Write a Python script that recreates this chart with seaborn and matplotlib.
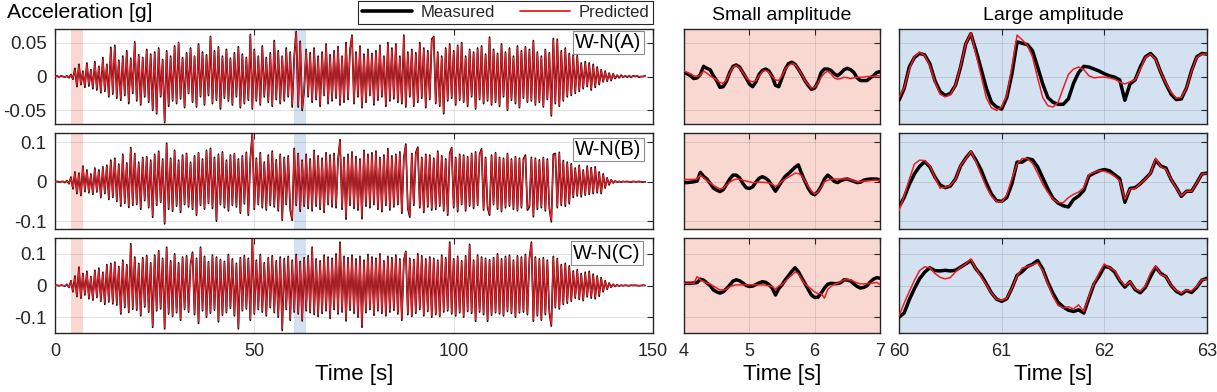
import numpy as np
import pandas as pd
import matplotlib
matplotlib.use("Agg")
import matplotlib.pyplot as plt
from matplotlib.lines import Line2D
import seaborn as sns

sns.set_theme(style="white")
plt.rcParams["font.family"] = ["Liberation Sans", "DejaVu Sans"]

# ---------------------------------------------------------------- data
station_labels = ["W-N(A)", "W-N(B)", "W-N(C)"]
full_t_step = 0.5      # s, sampling of the overview records
zoom_t_step = 0.05     # s, sampling of the zoomed windows
small_window = [4, 7]
large_window = [60, 63]
col_titles = ["Small amplitude", "Large amplitude"]
full_xticks = [0, 50, 100, 150]
small_xticks = [4, 5, 6, 7]
large_xticks = [60, 61, 62, 63]
row_yticks = [[-0.05, 0, 0.05], [-0.1, 0, 0.1], [-0.1, 0, 0.1]]
row_yticklabels = [["-0.05", "0", "0.05"], ["-0.1", "0", "0.1"], ["-0.1", "0", "0.1"]]
row_ylims = [(-0.07, 0.07), (-0.12, 0.124), (-0.15, 0.15)]

# overview records, acceleration in milli-g, 0 ... 148 s
meas_A_mg = [
    0, 1, -1, 1, 0, -1, 1, -2, 3, -4,
    12, -15, 18, -12, 8, -16, 20, -14, 10, -18,
    22, -20, 15, -24, 28, -22, 18, -30, 43, -26,
    46, -32, 24, -35, 30, -28, 38, -40, 27, -25,
    51, -36, 32, -42, 28, -30, 40, -38, 33, -50,
    36, -55, 42, -30, 25, -68, 38, -44, 30, -36,
    45, -40, 50, -33, 28, -46, 35, -25, 42, -38,
    30, -45, 48, -30, 36, -42, 32, -28, 59, -40,
    38, -35, 44, -48, 30, -32, 40, -36, 27, -42,
    35, -30, 44, -46, 33, -40, 28, -35, 62, -48,
    40, -36, 30, -42, 45, -30, 28, -38, 35, -44,
    53, -34, 38, -40, 30, -36, 42, -30, 36, -45,
    30, 66, -45, 52, -50, -20, 40, -30, 35, -38,
    42, -34, 30, -44, 36, -28, 48, -40, 32, -36,
    38, -32, 44, -42, 30, -38, 50, -34, 40, 61,
    -40, 36, -30, 45, -46, 33, -38, 40, -28, 34,
    -42, 38, -35, 46, -30, 30, -44, 50, -36, 42,
    -33, 48, -38, 30, -40, 61, -45, 36, -30, 40,
    -44, 35, -38, 50, -32, 42, -46, 38, -34, 55,
    59, -40, 36, -44, 30, -55, 42, -36, 48, -32,
    38, -42, 46, -35, 50, -38, 30, -44, 40, -30,
    36, -48, 42, -34, 45, -40, 33, -36, 58, -42,
    40, -38, 34, -44, 48, -30, 36, -50, 42, -35,
    30, -40, 45, -46, 38, -32, 44, -38, 40, -36,
    53, -42, 36, -38, 30, -45, 40, -34, 35, -58,
    56, -40, 55, -44, 38, -36, 42, -30, 34, -28,
    32, -25, 31, -22, 20, -18, 22, -15, 20, -20,
    18, -16, 14, -12, 10, -8, 8, -7, 5, -6,
    4, -3, 2, -2, 2, -1, 1, -1, 1, -1,
    1, 0, 1, -1, 0, 0, 1,
]
pred_A_mg = [
    0, 1, -1, 1, 0, -1, 1, -1, 2, -3,
    10, -13, 16, -11, 7, -14, 18, -12, 9, -16,
    20, -18, 14, -22, 26, -20, 17, -28, 41, -24,
    44, -30, 22, -33, 28, -26, 36, -37, 25, -23,
    50, -34, 30, -40, 27, -28, 38, -36, 31, -48,
    34, -53, 40, -28, 24, -66, 36, -41, 28, -34,
    43, -38, 49, -31, 26, -44, 33, -24, 40, -36,
    29, -43, 46, -28, 34, -40, 30, -26, 58, -38,
    36, -33, 42, -45, 28, -30, 38, -34, 26, -40,
    33, -28, 42, -44, 31, -38, 27, -33, 61, -46,
    38, -34, 29, -40, 43, -28, 26, -36, 33, -42,
    51, -32, 36, -38, 29, -34, 40, -28, 34, -42,
    28, 65, -43, 50, -47, -18, 38, -28, 33, -36,
    40, -32, 28, -42, 34, -27, 46, -38, 30, -34,
    36, -30, 42, -40, 29, -36, 48, -32, 38, 60,
    -38, 34, -28, 43, -44, 31, -36, 38, -27, 32,
    -40, 36, -33, 44, -28, 29, -42, 48, -34, 40,
    -31, 46, -36, 28, -38, 60, -43, 34, -28, 38,
    -42, 33, -36, 48, -30, 40, -44, 36, -32, 53,
    58, -38, 34, -42, 28, -53, 40, -34, 46, -30,
    36, -40, 44, -33, 48, -36, 28, -42, 38, -28,
    34, -46, 40, -32, 43, -38, 31, -34, 56, -40,
    38, -36, 32, -42, 46, -28, 34, -48, 40, -33,
    28, -38, 43, -44, 36, -30, 42, -36, 38, -34,
    51, -40, 34, -36, 28, -43, 38, -32, 33, -56,
    54, -38, 53, -42, 36, -34, 40, -28, 32, -26,
    30, -23, 29, -20, 18, -16, 20, -13, 18, -18,
    16, -14, 12, -10, 9, -7, 7, -6, 4, -5,
    3, -2, 2, -1, 1, -1, 1, 0, 1, 0,
    0, 0, 1, 0, 0, 0, 0,
]
meas_B_mg = [
    0, 1, -1, 0, 1, -2, 3, -5, 12, -18,
    25, -30, 22, -35, 40, -25, 30, -28, 20, -32,
    35, -26, 30, -40, 38, -30, 42, -45, 55, -40,
    60, -50, 45, -62, 70, -55, 48, -65, 87, -60,
    72, -58, 50, -70, 62, -48, 64, -66, 55, -90,
    70, -60, 78, -52, 58, -107, 98, -70, 60, -75,
    80, -62, 55, -78, 68, -58, 72, -64, 50, -70,
    66, -85, 74, -60, 58, -70, 80, -55, 85, -68,
    62, -100, 70, -58, 76, -66, 55, -74, 68, -60,
    72, -64, 58, -80, 66, -56, 75, -85, 60, 124,
    -70, 60, -58, 74, -66, 50, -72, 68, -60, 78,
    -64, 56, -74, 70, -98, 62, -58, 66, -72, -98,
    85, -60, 72, -75, 55, -62, 70, -68, 58, -74,
    80, -62, 66, -70, 60, -78, 74, -58, 68, -64,
    72, -66, 58, 107, -70, 62, -95, 70, -60, 76,
    -68, 64, -72, 58, -94, 80, -62, 70, -66, 74,
    -58, 78, -70, 62, -76, 68, -60, 84, -72, 66,
    -64, 70, -58, 76, -80, 62, 96, -68, -90, 72,
    -60, 74, 88, -66, 62, -78, 70, -64, 68, -72,
    60, -70, 78, -62, 66, -74, 58, -85, 72, 87,
    -66, 62, -76, 70, -58, 68, -74, 64, -62, 72,
    -68, 76, -60, 70, 84, -72, 62, -66, -85, 68,
    -58, 74, -70, 62, -76, 60, -66, 72, -62, 58,
    -70, 64, -74, 60, -66, 58, 68, -72, -64, 62,
    -89, 60, -70, 56, -66, 62, -74, 58, -68, -102,
    70, 72, -66, 75, -60, 54, -62, 50, -56, 46,
    -40, 35, -36, 42, -38, 30, -34, 40, -32, 36,
    -30, 38, -28, 25, -30, 20, -16, 10, -8, 5,
    -3, 2, -1, 1, -1, 1, 0, 1, 0, -1,
    1, 0, 0, 1, 0, -1, 0,
]
pred_B_mg = [
    0, 0, -1, 0, 1, -1, 2, -4, 10, -16,
    23, -27, 20, -32, 38, -22, 27, -26, 18, -29,
    33, -24, 27, -37, 36, -27, 40, -42, 52, -37,
    57, -47, 42, -58, 67, -52, 45, -61, 84, -57,
    69, -55, 47, -66, 59, -45, 61, -63, 52, -86,
    67, -57, 75, -49, 55, -103, 95, -66, 57, -71,
    77, -59, 52, -74, 65, -55, 69, -60, 47, -66,
    63, -81, 71, -57, 55, -66, 77, -52, 82, -64,
    59, -96, 67, -55, 73, -62, 52, -70, 65, -57,
    69, -60, 55, -76, 63, -53, 72, -81, 57, 121,
    -66, 57, -55, 71, -62, 47, -68, 65, -57, 75,
    -60, 53, -70, 67, -94, 59, -55, 63, -68, -94,
    82, -57, 69, -71, 52, -58, 67, -64, 55, -70,
    77, -58, 63, -66, 57, -74, 71, -55, 65, -60,
    69, -62, 55, 104, -66, 59, -91, 67, -57, 73,
    -64, 61, -68, 55, -90, 77, -58, 67, -62, 71,
    -55, 75, -66, 59, -72, 65, -57, 81, -68, 63,
    -60, 67, -55, 73, -76, 59, 93, -64, -86, 69,
    -57, 71, 85, -62, 59, -74, 67, -60, 65, -68,
    57, -66, 75, -58, 63, -70, 55, -81, 69, 84,
    -62, 59, -72, 67, -55, 65, -70, 61, -58, 69,
    -64, 73, -57, 67, 81, -68, 59, -62, -81, 65,
    -55, 71, -66, 59, -72, 57, -62, 69, -58, 55,
    -66, 61, -70, 57, -62, 55, 65, -68, -60, 59,
    -85, 57, -66, 53, -62, 59, -70, 55, -64, -98,
    67, 69, -62, 72, -56, 51, -58, 47, -52, 43,
    -36, 32, -33, 39, -34, 27, -31, 36, -29, 33,
    -27, 35, -25, 22, -27, 17, -14, 8, -6, 4,
    -2, 1, -1, 1, 0, 1, 0, 0, 0, 0,
    1, 0, 0, 0, 0, 0, 0,
]
meas_C_mg = [
    0, 1, -1, 1, 0, -2, 4, -6, 15, -20,
    30, -35, 58, -40, 38, -30, 45, -42, 28, -46,
    48, -38, 55, -50, 42, -60, 66, -52, 70, -58,
    74, -62, 60, -90, 80, -70, 66, -85, 132, -75,
    90, -78, 70, -96, 88, -68, 95, -84, 72, -132,
    96, -80, 110, -74, 86, -137, 121, -90, 78, -98,
    100, -86, 72, -110, 90, -76, 94, -84, 68, 105,
    -92, 86, -120, 121, -80, 92, -100, 75, -88, 96,
    -78, 90, -115, 82, -94, 76, -86, 98, -72, 84,
    -96, 70, -137, 88, -80, 95, -74, 86, -110, 150,
    -90, 80, -76, 98, -84, 72, -96, 88, -70, 94,
    -86, 78, -100, 90, -142, 85, -76, 92, -110, 80,
    -84, 98, -90, 76, -112, 88, -80, 94, -86, 121,
    -92, 84, -98, 78, -88, 96, -80, 90, -104, 86,
    -76, 100, -90, 137, -84, 92, -112, 88, -78, 96,
    -88, 84, -100, 92, -132, 80, -86, 98, -76, 90,
    -94, 86, -80, 100, -88, 78, -96, 92, -84, 88,
    -78, 96, -90, 84, -110, 80, 108, -92, 86, -98,
    82, -88, 100, -76, 94, -96, 84, -82, 90, -100,
    86, -92, 80, -98, 96, -84, 88, -80, 137, -90,
    84, -96, 92, -86, 78, -100, 94, -82, 130, -88,
    80, -113, 96, -84, 90, -92, 86, -113, 82, -94,
    88, -86, 100, -90, 84, -96, 92, -82, 96, -88,
    80, -100, 94, -86, 90, -84, 98, -92, 86, 137,
    -113, 90, -96, 84, -110, 88, -92, 80, -86, -128,
    92, -70, 85, -74, 66, -60, 70, -56, 62, -50,
    46, -40, 50, -44, 38, -48, 42, -36, 45, -40,
    36, -42, 30, -34, 25, -20, 15, -12, 8, -6,
    4, -3, 2, -2, 1, -1, 1, 0, -1, 1,
    0, 1, 0, -1, 0, 1, 0,
]
pred_C_mg = [
    0, 0, -1, 1, 0, -1, 3, -5, 13, -18,
    27, -32, 55, -37, 35, -27, 42, -39, 26, -43,
    45, -35, 52, -47, 39, -56, 63, -49, 67, -55,
    71, -58, 57, -86, 77, -66, 63, -81, 128, -71,
    86, -74, 67, -92, 84, -64, 91, -80, 69, -128,
    92, -76, 106, -70, 82, -132, 118, -86, 74, -94,
    96, -82, 68, -106, 86, -72, 90, -80, 64, 101,
    -88, 82, -115, 118, -76, 88, -96, 71, -84, 92,
    -74, 86, -110, 78, -90, 72, -82, 94, -68, 80,
    -92, 66, -132, 84, -76, 91, -70, 82, -106, 146,
    -86, 76, -72, 94, -80, 68, -92, 84, -66, 90,
    -82, 74, -96, 86, -136, 81, -72, 88, -106, 76,
    -80, 94, -86, 72, -108, 84, -76, 90, -82, 118,
    -88, 80, -94, 74, -84, 92, -76, 86, -100, 82,
    -72, 96, -86, 133, -80, 88, -108, 84, -74, 92,
    -84, 80, -96, 88, -127, 76, -82, 94, -72, 86,
    -90, 82, -76, 96, -84, 74, -92, 88, -80, 84,
    -74, 92, -86, 80, -106, 76, 104, -88, 82, -94,
    78, -84, 96, -72, 90, -92, 80, -78, 86, -96,
    82, -88, 76, -94, 92, -80, 84, -76, 133, -86,
    80, -92, 88, -82, 74, -96, 90, -78, 126, -84,
    76, -108, 92, -80, 86, -88, 82, -108, 78, -90,
    84, -82, 96, -86, 80, -92, 88, -78, 92, -84,
    76, -96, 90, -82, 86, -80, 94, -88, 82, 133,
    -108, 86, -92, 80, -106, 84, -88, 76, -82, -123,
    88, -66, 81, -70, 62, -56, 66, -52, 58, -46,
    42, -36, 46, -40, 34, -44, 38, -32, 41, -36,
    32, -38, 27, -30, 22, -17, 13, -10, 6, -5,
    3, -2, 1, -1, 1, 0, 0, 0, 0, 1,
    0, 0, 0, 0, 0, 0, 0,
]

# zoomed windows (milli-g), 4-7 s and 60-63 s
small_meas_A_mg = [6, 4, 1, -3, -2, 3, 15, 12, 10, 1, -6, -16, -15, -7, 6, 15, 17, 14, 6, -2,
                   -11, -15, -8, 3, 9, 11, 8, 0, -13, -15, -2, 11, 19, 21, 18, 11, 3, -6, -13, -19,
                   -17, -8, 6, 11, 11, 9, 4, 1, 5, 10, 12, 10, 6, -2, -6, -6, -6, -2, 1, 6, 7]
small_pred_A_mg = [8, 6, 4, 1, 0, 2, 8, 5, 1, -2, -5, -9, -10, -5, 5, 14, 16, 13, 6, -1,
                   -6, -8, -6, 1, 7, 9, 6, 0, -5, -6, 1, 11, 16, 19, 18, 11, 3, -6, -12, -17,
                   -16, -10, -1, 5, 8, 4, -2, -4, -3, -1, -2, -3, -2, -1, -1, -1, 0, 0, 0, 1, 1]
large_meas_A_mg = [-35, -18, 14, 28, 34, 32, 19, -6, -22, -28, -25, -13, 14, 48, 63, 38, 11, -17, -38, -45,
                   -48, -31, 4, 51, 49, 47, 38, 14, -11, -31, -38, -41, -41, -33, -10, 6, 15, 14, 11, 8,
                   4, 1, -1, -5, -35, -11, -5, 14, 29, 34, 26, 6, -11, -26, -34, -33, -17, 9, 29, 34, 33]
large_pred_A_mg = [-31, -17, 11, 29, 36, 31, 16, -8, -26, -30, -27, -13, 16, 48, 64, 33, 1, -31, -46, -50,
                   -45, -28, 14, 61, 54, 46, 29, -2, -31, -43, -45, -38, -17, 3, 11, 14, 10, 1, -2, -1,
                   -1, -2, -4, -8, -11, -8, -5, 11, 28, 33, 25, 6, -10, -23, -32, -31, -17, 8, 28, 33, 33]
small_meas_B_mg = [-2, -2, -1, 0, 2, 24, 14, 7, -4, -16, -21, -25, -20, -7, 7, 17, 17, 10, -4, -15,
                   -17, -13, -1, 9, 13, 9, 2, -11, -24, -11, 2, 14, 21, 29, 37, 43, 21, 2, -16, -29,
                   -33, -25, -11, 7, 17, 10, 1, -2, 3, 6, 7, 4, 1, -2, -1, 4, 6, 7, 7, 7, 4]
small_pred_B_mg = [6, 6, 6, 6, 7, 17, 10, 3, -2, -9, -14, -18, -16, -9, -1, 4, 7, 7, 4, 2,
                   0, -2, -2, -1, -1, -2, -3, -6, -12, -7, 2, 7, 12, 17, 22, 21, 16, 3, -11, -23,
                   -31, -26, -13, 0, 4, 6, 7, 7, 7, 7, 7, 6, 2, 0, 0, 2, 2, 3, 4, 4, 4]
large_meas_B_mg = [-64, -40, -7, 20, 39, 51, 38, 12, -8, -15, -11, 7, 40, 60, 76, 55, 30, -3, -31, -48,
                   -50, -40, -5, 50, 50, 59, 56, 38, 10, -18, -42, -54, -61, -64, -45, -36, -22, 15, 22, 28,
                   31, 28, 18, 8, -52, -17, -15, -5, 8, 22, 55, 40, 35, 6, -14, -37, -24, -24, -3, 20, 22]
large_pred_B_mg = [-73, -36, 6, 45, 55, 54, 41, 11, -16, -14, -9, 6, 42, 58, 78, 50, 18, -13, -36, -50,
                   -52, -33, 8, 45, 59, 59, 47, 22, -6, -27, -44, -53, -53, -40, -32, -26, -15, 18, 24, 28,
                   27, 22, 14, 2, -44, -19, -17, -5, 7, 22, 60, 38, 32, 6, -16, -36, -24, -24, -3, 20, 21]
small_meas_C_mg = [7, 7, 7, 8, 9, 20, 17, 8, 0, -14, -20, -24, -20, -10, 1, 14, 18, 15, 8, 0,
                   -3, -2, 3, 8, 12, 10, 3, -8, -30, -10, 2, 18, 31, 45, 56, 44, 25, 7, -12, -30,
                   -38, -37, -24, -8, 4, 7, 6, 6, 9, 18, 17, 14, 5, -3, -8, -6, -1, 11, 20, 25, 23]
small_pred_C_mg = [7, 7, 7, 7, 28, 18, 13, 7, 5, -2, -8, -14, -14, -12, -4, 0, 2, 2, 2, 2,
                   2, 2, 2, 2, 2, 1, -1, -3, -12, -2, 3, 12, 24, 33, 43, 37, 20, 5, -3, -12,
                   -20, -26, -25, -40, -12, -3, 4, 7, 12, 18, 18, 18, 13, 8, 5, 5, 6, 7, 8, 10, 3]
large_meas_C_mg = [-100, -87, -45, -10, 21, 42, 56, 47, 46, 48, 46, 48, 58, 68, 79, 52, 33, 6, -23, -43,
                   -50, -42, -8, 32, 44, 60, 67, 79, 52, 10, -25, -53, -68, -78, -82, -77, -87, -40, 5, 30,
                   60, 57, 43, 15, -5, 12, -13, -23, -6, 28, 58, 38, 28, 0, -18, -27, -16, -22, -6, 17, 23]
large_pred_C_mg = [-96, -56, -19, 16, 47, 59, 56, 38, 26, 21, 25, 43, 57, 68, 84, 52, 27, 3, -24, -43,
                   -47, -40, -8, 30, 55, 60, 65, 72, 48, 5, -35, -63, -71, -67, -74, -61, -82, -35, 8, 40,
                   68, 56, 48, 18, 0, 12, -11, -18, -1, 40, 62, 34, 28, 1, -16, -24, -14, -17, -3, 18, 20]

full_meas = [meas_A_mg, meas_B_mg, meas_C_mg]
full_pred = [pred_A_mg, pred_B_mg, pred_C_mg]
small_meas = [small_meas_A_mg, small_meas_B_mg, small_meas_C_mg]
small_pred = [small_pred_A_mg, small_pred_B_mg, small_pred_C_mg]
large_meas = [large_meas_A_mg, large_meas_B_mg, large_meas_C_mg]
large_pred = [large_pred_A_mg, large_pred_B_mg, large_pred_C_mg]

# ---------------------------------------------------------------- style
MEAS_C = "#000000"
PRED_C = "#ee1c24"
PINK = "#f9d8d1"
BLUE = "#d4e1f1"
AX_C = "#262626"

FIG_W, FIG_H = 1217, 392
fig = plt.figure(figsize=(FIG_W / 100, FIG_H / 100), dpi=100)


def rect(l, t, r, b):
    return [l / FIG_W, 1 - b / FIG_H, (r - l) / FIG_W, (b - t) / FIG_H]


col_px = [(55, 653), (684, 880), (899, 1207)]
row_px = [(29, 124), (133, 229), (238, 333)]
label_pos = [(0.9256, 0.858), (0.9256, 0.828), (0.9231, 0.842)]


def series_frame(t0, step, meas, pred):
    n_m, n_p = len(meas), len(pred)
    return pd.DataFrame({
        "t": np.concatenate([t0 + step * np.arange(n_m), t0 + step * np.arange(n_p)]),
        "acc": np.concatenate([np.asarray(meas, float), np.asarray(pred, float)]) / 1000.0,
        "series": ["Measured"] * n_m + ["Predicted"] * n_p,
    })


def draw(ax, df, lw_m, lw_p):
    sns.lineplot(data=df[df.series == "Measured"], x="t", y="acc", ax=ax,
                 color=MEAS_C, lw=lw_m, estimator=None, sort=False, legend=False, zorder=3)
    sns.lineplot(data=df[df.series == "Predicted"], x="t", y="acc", ax=ax,
                 color=PRED_C, lw=lw_p, estimator=None, sort=False, legend=False, zorder=4)


def style(ax, r, xlim, xticks, show_x, show_y, bg):
    ax.set_facecolor(bg)
    ax.set_xlim(xlim)
    ax.set_ylim(row_ylims[r])
    ax.set_xticks(xticks)
    ax.set_yticks(row_yticks[r])
    if show_y:
        ax.set_yticklabels(row_yticklabels[r])
    else:
        ax.set_yticklabels([])
    if show_x:
        ax.set_xticklabels([str(v) for v in xticks])
    else:
        ax.set_xticklabels([])
    ax.grid(True, color=AX_C, alpha=0.15, lw=0.6)
    ax.set_axisbelow(True)
    ax.tick_params(direction="in", length=4, width=0.8, top=True, right=True,
                   colors=AX_C, labelcolor=AX_C)
    ax.tick_params(axis="x", labelsize=13, pad=7)
    ax.tick_params(axis="y", labelsize=13.5, pad=6)
    for sp in ax.spines.values():
        sp.set_visible(True)
        sp.set_color(AX_C)
        sp.set_linewidth(1.0)
    ax.set_xlabel("")
    ax.set_ylabel("")


for r in range(3):
    top, bot = row_px[r]
    last = r == 2

    # overview
    ax0 = fig.add_axes(rect(col_px[0][0], top, col_px[0][1], bot))
    ax0.axvspan(small_window[0], small_window[1], color=PINK, lw=0, zorder=0.2)
    ax0.axvspan(large_window[0], large_window[1], color=BLUE, lw=0, zorder=0.2)
    draw(ax0, series_frame(0.0, full_t_step, full_meas[r], full_pred[r]), 1.2, 0.9)
    style(ax0, r, (0, 150), full_xticks, last, True, "white")
    ax0.text(*label_pos[r], station_labels[r], transform=ax0.transAxes, ha="center", va="center",
             fontsize=14.5, color="black", zorder=6,
             bbox=dict(boxstyle="square,pad=0.12", fc="white", ec="#8c8c8c", lw=0.8))

    # small amplitude window
    ax1 = fig.add_axes(rect(col_px[1][0], top, col_px[1][1], bot))
    draw(ax1, series_frame(small_window[0], zoom_t_step, small_meas[r], small_pred[r]), 2.5, 1.1)
    style(ax1, r, tuple(small_window), small_xticks, last, False, PINK)

    # large amplitude window
    ax2 = fig.add_axes(rect(col_px[2][0], top, col_px[2][1], bot))
    draw(ax2, series_frame(large_window[0], zoom_t_step, large_meas[r], large_pred[r]), 2.5, 1.1)
    style(ax2, r, tuple(large_window), large_xticks, last, False, BLUE)

    if r == 0:
        ax1.set_title(col_titles[0], fontsize=14, pad=6.5, color="black")
        ax2.set_title(col_titles[1], fontsize=14, pad=6.5, color="black")
    if last:
        for a in (ax0, ax1, ax2):
            a.set_xlabel("Time [s]", fontsize=16, labelpad=3, color="black")

fig.text(7 / FIG_W, 1 - 13 / FIG_H, "Acceleration [g]", fontsize=15.2, ha="left", va="center",
         color="black")

handles = [Line2D([], [], color=MEAS_C, lw=2.6), Line2D([], [], color=PRED_C, lw=1.3)]
leg = fig.legend(handles, ["Measured", "Predicted"], loc="center",
                 bbox_to_anchor=(505.5 / FIG_W, 1 - 12.5 / FIG_H), ncol=2, fontsize=12,
                 frameon=True, fancybox=False, edgecolor=AX_C, framealpha=1,
                 borderpad=0.25, handlelength=3, handletextpad=0.5, columnspacing=1.5)
leg.get_frame().set_linewidth(0.8)

fig.savefig("out.png", dpi=100)
